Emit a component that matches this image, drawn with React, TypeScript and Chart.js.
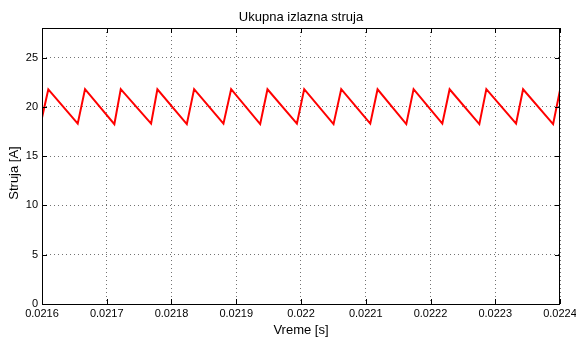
import { useEffect, useRef } from "react";
import { Chart, registerables } from "chart.js";

Chart.register(...registerables);

const chartTitle = "Ukupna izlazna struja";
const xLabel = "Vreme [s]";
const yLabel = "Struja [A]";

const timeS = [
  0.0216, 0.02160974, 0.02165518, 0.02166646, 0.02171175, 0.02172164,
  0.02176847, 0.02177821, 0.02182365, 0.02183493, 0.02188022, 0.02189212,
  0.02193694, 0.02194822, 0.02199366, 0.02200495, 0.02205023, 0.02206213,
  0.02210696, 0.02211824, 0.0221626, 0.02217388, 0.02221824, 0.02222952,
  0.02227543, 0.02228625, 0.02233215, 0.02234297, 0.02238934, 0.0224,
];
const currentA = [
  18.9, 21.78, 18.3, 21.8, 18.25, 21.8, 18.3, 21.78, 18.25, 21.8, 18.3, 21.8,
  18.25, 21.78, 18.3, 21.8, 18.25, 21.8, 18.3, 21.78, 18.25, 21.8, 18.3, 21.78,
  18.25, 21.8, 18.3, 21.78, 18.25, 21.7,
];

const xTicks = [0.0216, 0.0217, 0.0218, 0.0219, 0.022, 0.0221, 0.0222, 0.0223, 0.0224];
const yTicks = [0, 5, 10, 15, 20, 25];
const xMin = 0.0216;
const xMax = 0.0224;
const yMin = 0;
const yMax = 28;

const FONT = "'Liberation Sans', Arial, sans-serif";

const boxPlugin = {
  id: "matlabBox",
  afterDraw(chart: any) {
    const { ctx, chartArea } = chart;
    const { left, right, top, bottom } = chartArea;
    const xs = chart.scales.x;
    const ys = chart.scales.y;
    const tl = 5;
    ctx.save();
    ctx.strokeStyle = "#000";
    ctx.lineWidth = 1;
    ctx.setLineDash([]);
    ctx.beginPath();
    for (const v of xTicks) {
      const px = Math.round(xs.getPixelForValue(v)) + 0.5;
      ctx.moveTo(px, bottom);
      ctx.lineTo(px, bottom - tl);
      ctx.moveTo(px, top);
      ctx.lineTo(px, top + tl);
    }
    for (const v of yTicks) {
      const py = Math.round(ys.getPixelForValue(v)) + 0.5;
      ctx.moveTo(left, py);
      ctx.lineTo(left + tl, py);
      ctx.moveTo(right, py);
      ctx.lineTo(right - tl, py);
    }
    ctx.stroke();
    ctx.strokeRect(
      Math.round(left) + 0.5,
      Math.round(top) + 0.5,
      Math.round(right) - Math.round(left) - 1,
      Math.round(bottom) - Math.round(top)
    );
    // y-axis label
    ctx.translate(14, 173);
    ctx.rotate(-Math.PI / 2);
    ctx.fillStyle = "#000";
    ctx.font = "13px " + FONT;
    ctx.textAlign = "center";
    ctx.textBaseline = "middle";
    ctx.fillText(yLabel, 0, 0);
    ctx.restore();
  },
};

export default function App() {
  const ref = useRef<HTMLCanvasElement | null>(null);

  useEffect(() => {
    if (!ref.current) return;
    const points = timeS.map((t, i) => ({ x: t, y: currentA[i] }));
    const chart = new Chart(ref.current, {
      type: "line",
      data: {
        datasets: [
          {
            data: points,
            borderColor: "#ff0000",
            borderWidth: 2,
            pointRadius: 0,
            tension: 0,
            fill: false,
          },
        ],
      },
      options: {
        animation: false,
        responsive: false,
        maintainAspectRatio: false,
        events: [],
        layout: { padding: { left: 0, right: 16, top: 0, bottom: 0 } },
        plugins: {
          legend: { display: false },
          tooltip: { enabled: false },
          title: {
            display: true,
            text: chartTitle,
            fullSize: false,
            color: "#000",
            font: { family: FONT, size: 13, weight: "normal" },
            padding: { top: 9.2, bottom: 3.2 },
          },
        },
        scales: {
          x: {
            type: "linear",
            min: xMin,
            max: xMax,
            afterBuildTicks: (scale: any) => {
              scale.ticks = xTicks.map((v) => ({ value: v }));
            },
            afterFit: (scale: any) => {
              scale.height = 39;
              scale.paddingLeft = 0;
              scale.paddingRight = 0;
            },
            ticks: {
              autoSkip: false,
              maxRotation: 0,
              minRotation: 0,
              padding: 3,
              color: "#000",
              font: { family: FONT, size: 11 },
              callback: (v: any) => String(+Number(v).toFixed(4)),
            },
            grid: {
              color: "rgba(0,0,0,0.55)",
              lineWidth: 1,
              drawTicks: false,
            },
            border: { display: false, dash: [1, 3] },
            title: {
              display: true,
              text: xLabel,
              color: "#000",
              font: { family: FONT, size: 13 },
              padding: { top: 0, bottom: 5 },
            },
          },
          y: {
            type: "linear",
            min: yMin,
            max: yMax,
            afterBuildTicks: (scale: any) => {
              scale.ticks = yTicks.map((v) => ({ value: v }));
            },
            afterFit: (scale: any) => {
              scale.width = 42;
              scale.paddingTop = 0;
              scale.paddingBottom = 0;
            },
            ticks: {
              autoSkip: false,
              padding: 4,
              color: "#000",
              font: { family: FONT, size: 11 },
              callback: (v: any) => String(v),
            },
            grid: {
              color: "rgba(0,0,0,0.55)",
              lineWidth: 1,
              drawTicks: false,
            },
            border: { display: false, dash: [1, 3] },
            title: { display: false },
          },
        },
      },
      plugins: [boxPlugin],
    } as any);
    return () => chart.destroy();
  }, []);

  return (
    <div style={{ position: "fixed", left: 0, top: 0, width: 576, height: 343, background: "#fff" }}>
      <canvas ref={ref} width={576} height={343} style={{ display: "block", width: 576, height: 343 }} />
    </div>
  );
}
